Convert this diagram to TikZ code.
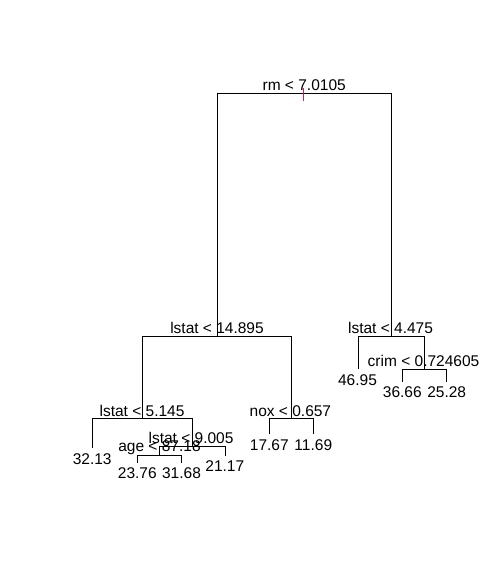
\documentclass[tikz,border=0pt]{standalone}
\usepackage{fontspec}
\setmainfont{Liberation Sans}
\begin{document}
\begin{tikzpicture}[x=1pt,y=-1pt,
  edge/.style={draw=black,line width=1pt},
  lbl/.style={anchor=base,inner sep=0pt,outer sep=0pt,font=\fontsize{15.5}{18}\selectfont},
  tickmark/.style={draw={rgb,255:red,190;green,40;blue,90},line width=1pt}]
\fill[white] (0,0) rectangle (501,575);
\useasboundingbox (0,0) rectangle (501,575);
% tree node points
\coordinate (root) at (304,93.3);
\coordinate (n2) at (217,336.3);
\coordinate (n3) at (391,336.3);
\coordinate (n4) at (142.3,418.7);
\coordinate (n5) at (291,418.3);
\coordinate (n9) at (192.3,446.7);
\coordinate (n18) at (159.3,455.6);
\coordinate (n7) at (424.3,369.3);
% leaf points
\coordinate (l8) at (92.3,447.7);
\coordinate (l36) at (137.3,462.7);
\coordinate (l37) at (181.5,462.7);
\coordinate (l19) at (225.7,455.7);
\coordinate (l10) at (269.3,434.3);
\coordinate (l11) at (313.3,434.3);
\coordinate (l6) at (358.3,369.3);
\coordinate (l14) at (402.3,381.7);
\coordinate (l15) at (446.7,381.7);
% edges
\draw[edge] (n2) |- (root) -| (n3);
\draw[edge] (n4) |- (n2) -| (n5);
\draw[edge] (l8) |- (n4) -| (n9);
\draw[edge] (n18) |- (n9) -| (l19);
\draw[edge] (l36) |- (n18) -| (l37);
\draw[edge] (l10) |- (n5) -| (l11);
\draw[edge] (l6) |- (n3) -| (n7);
\draw[edge] (l14) |- (n7) -| (l15);
% split labels
\node[lbl] (troot) at (304.2,91) {rm < 7.0105};
\node[lbl] (t2) at (217,333.5) {lstat < 14.895};
\node[lbl] (t3) at (390.5,333.5) {lstat < 4.475};
\node[lbl] (t4) at (142,416) {lstat < 5.145};
\node[lbl] (t5) at (290.4,416) {nox < 0.657};
\node[lbl] (t9) at (191,443.2) {lstat < 9.005};
\node[lbl] (t18) at (159.5,451) {age < 87.18};
\node[lbl] (t7) at (423.5,366.7) {crim < 0.724605};
% leaf labels
\node[lbl] (v8) at (92.2,464) {32.13};
\node[lbl] (v36) at (137.3,478) {23.76};
\node[lbl] (v37) at (181.5,478) {31.68};
\node[lbl] (v19) at (224.8,471.5) {21.17};
\node[lbl] (v10) at (269.3,450) {17.67};
\node[lbl] (v11) at (313.3,450) {11.69};
\node[lbl] (v6) at (357.5,385.7) {46.95};
\node[lbl] (v14) at (402.3,397.3) {36.66};
\node[lbl] (v15) at (446.7,397.3) {25.28};
% root tick
\coordinate (tk1) at (303.5,88);
\coordinate (tk2) at (303.5,101.5);
\draw[tickmark] (tk1) -- (tk2);
\end{tikzpicture}
\end{document}
